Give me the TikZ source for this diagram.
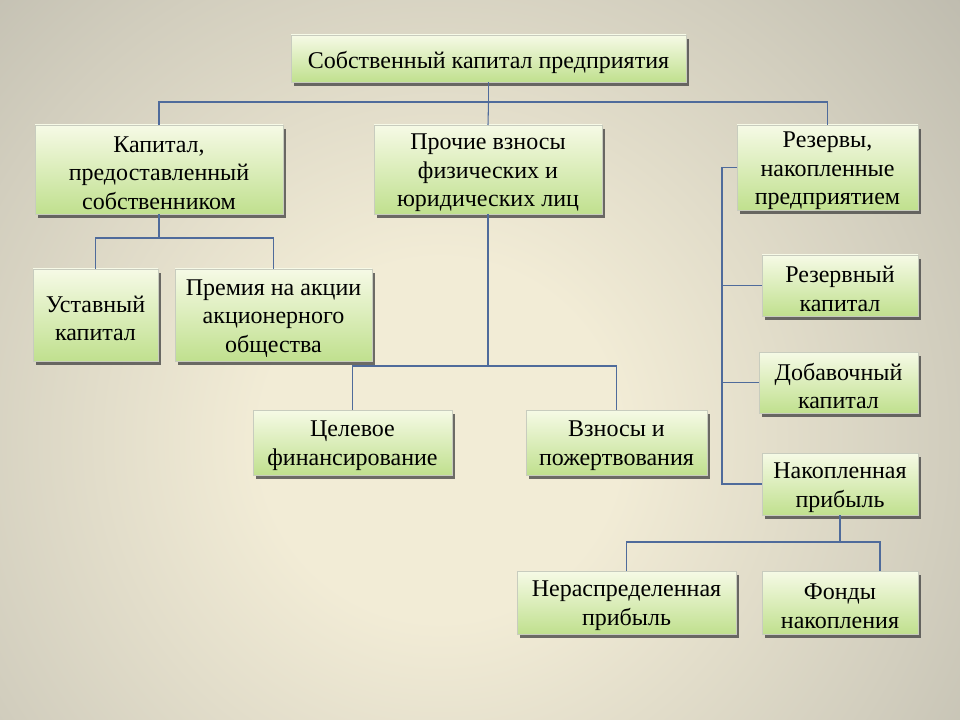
\documentclass[tikz,border=0pt]{standalone}
\usepackage{fontspec}
\setmainfont{Liberation Serif}
\usetikzlibrary{shadows,calc}
\definecolor{bgin}{RGB}{242,236,214}
\definecolor{bgmid}{RGB}{210,206,190}
\definecolor{bgedge}{RGB}{172,170,160}
\definecolor{bgfar}{RGB}{152,150,142}
\definecolor{bgout}{RGB}{140,138,130}
\definecolor{boxtop}{RGB}{246,250,230}
\definecolor{boxbot}{RGB}{192,224,142}
\definecolor{boxline}{RGB}{200,204,190}
\definecolor{conncol}{RGB}{79,107,155}
\pgfdeclareradialshading{bgshade}{\pgfpoint{0bp}{0bp}}{color(0bp)=(bgin); color(5bp)=(bgin); color(14bp)=(bgmid); color(24bp)=(bgedge); color(36bp)=(bgfar); color(50bp)=(bgout)}
\tikzset{
  box/.style={draw=boxline, line width=0.5pt, top color=boxtop, bottom color=boxbot,
    inner sep=0pt, outer sep=0pt,
    drop shadow={shadow xshift=2.2pt, shadow yshift=-2.8pt, fill=black!75, opacity=0.75}},
  boxtext/.style={inner sep=0pt, align=center, font=\fontsize{18}{21.5}\selectfont},
  conn/.style={draw=conncol, line width=0.8pt}
}
\newcommand\mybox[6]{%
  \node[box, minimum width={(#4-#2)*0.75pt}, minimum height={(#5-#3)*0.75pt}] (#1) at ({(#2+#4)/2},{(#3+#5)/2}) {};
  \node[boxtext] (#1t) at ($(#1.center)+(0,3.5)$) {#6};}
\begin{document}
\begin{tikzpicture}[x=0.75pt,y=-0.75pt]
\useasboundingbox (0,0) rectangle (960,720);
\begin{scope}
\clip (0,0) rectangle (960,720);
\fill[bgout] (0,0) rectangle (960,720);
\shade[shading=bgshade] (440,440) circle (900);
\end{scope}
% boxes
\mybox{top}{291}{35}{686}{82}{Собственный капитал предприятия}
\mybox{b2}{35}{125}{283}{214}{Капитал,\\предоставленный\\собственником}
\mybox{b3}{374}{125}{602}{214}{Прочие взносы\\физических и\\юридических лиц}
\mybox{b4}{737}{125}{918}{210}{Резервы,\\накопленные\\предприятием}
\mybox{b5}{33}{269}{158}{361}{Уставный\\капитал}
\mybox{b6}{175}{269}{372}{361}{Премия на акции\\акционерного\\общества}
\mybox{b7}{253}{410}{452}{475}{Целевое\\финансирование}
\mybox{b8}{526}{410}{707}{475}{Взносы и\\пожертвования}
\mybox{b9}{762}{255}{918}{316}{Резервный\\капитал}
\mybox{b10}{759}{352}{918}{413}{Добавочный\\капитал}
\mybox{b11}{762}{453}{918}{515}{Накопленная\\прибыль}
\mybox{b12}{517}{571}{736}{634}{Нераспределенная\\прибыль}
\mybox{b13}{762}{571}{918}{634}{Фонды\\накопления}
% junctions
\coordinate (j1) at (488.5,102);
\coordinate (j2) at (159,238);
\coordinate (j3) at (488,366);
\coordinate (rx) at (722,0);
\coordinate (j5) at (840,542);
\coordinate (j5r) at (880,542);
% connectors
\draw[conn] (top.south) -- (j1);
\draw[conn] (b2.north) |- (j1) -| (b4.north);
\draw[conn] (j1) -- (b3.north);
\draw[conn] (b2.south) -- (j2);
\draw[conn] (b5.north) |- (j2) -| (b6.north);
\draw[conn] (b3.south) -- (j3);
\draw[conn] (b7.north) |- (j3) -| (b8.north);
\draw[conn] (b4.west) -- (b4.west -| rx) -- (b11.west -| rx) -- (b11.west);
\draw[conn] (b9.west -| rx) -- (b9.west);
\draw[conn] (b10.west -| rx) -- (b10.west);
\draw[conn] (b11.south) -- (j5);
\draw[conn] (b12.north) |- (j5r) -- (b13.north -| j5r);
\end{tikzpicture}
\end{document}
